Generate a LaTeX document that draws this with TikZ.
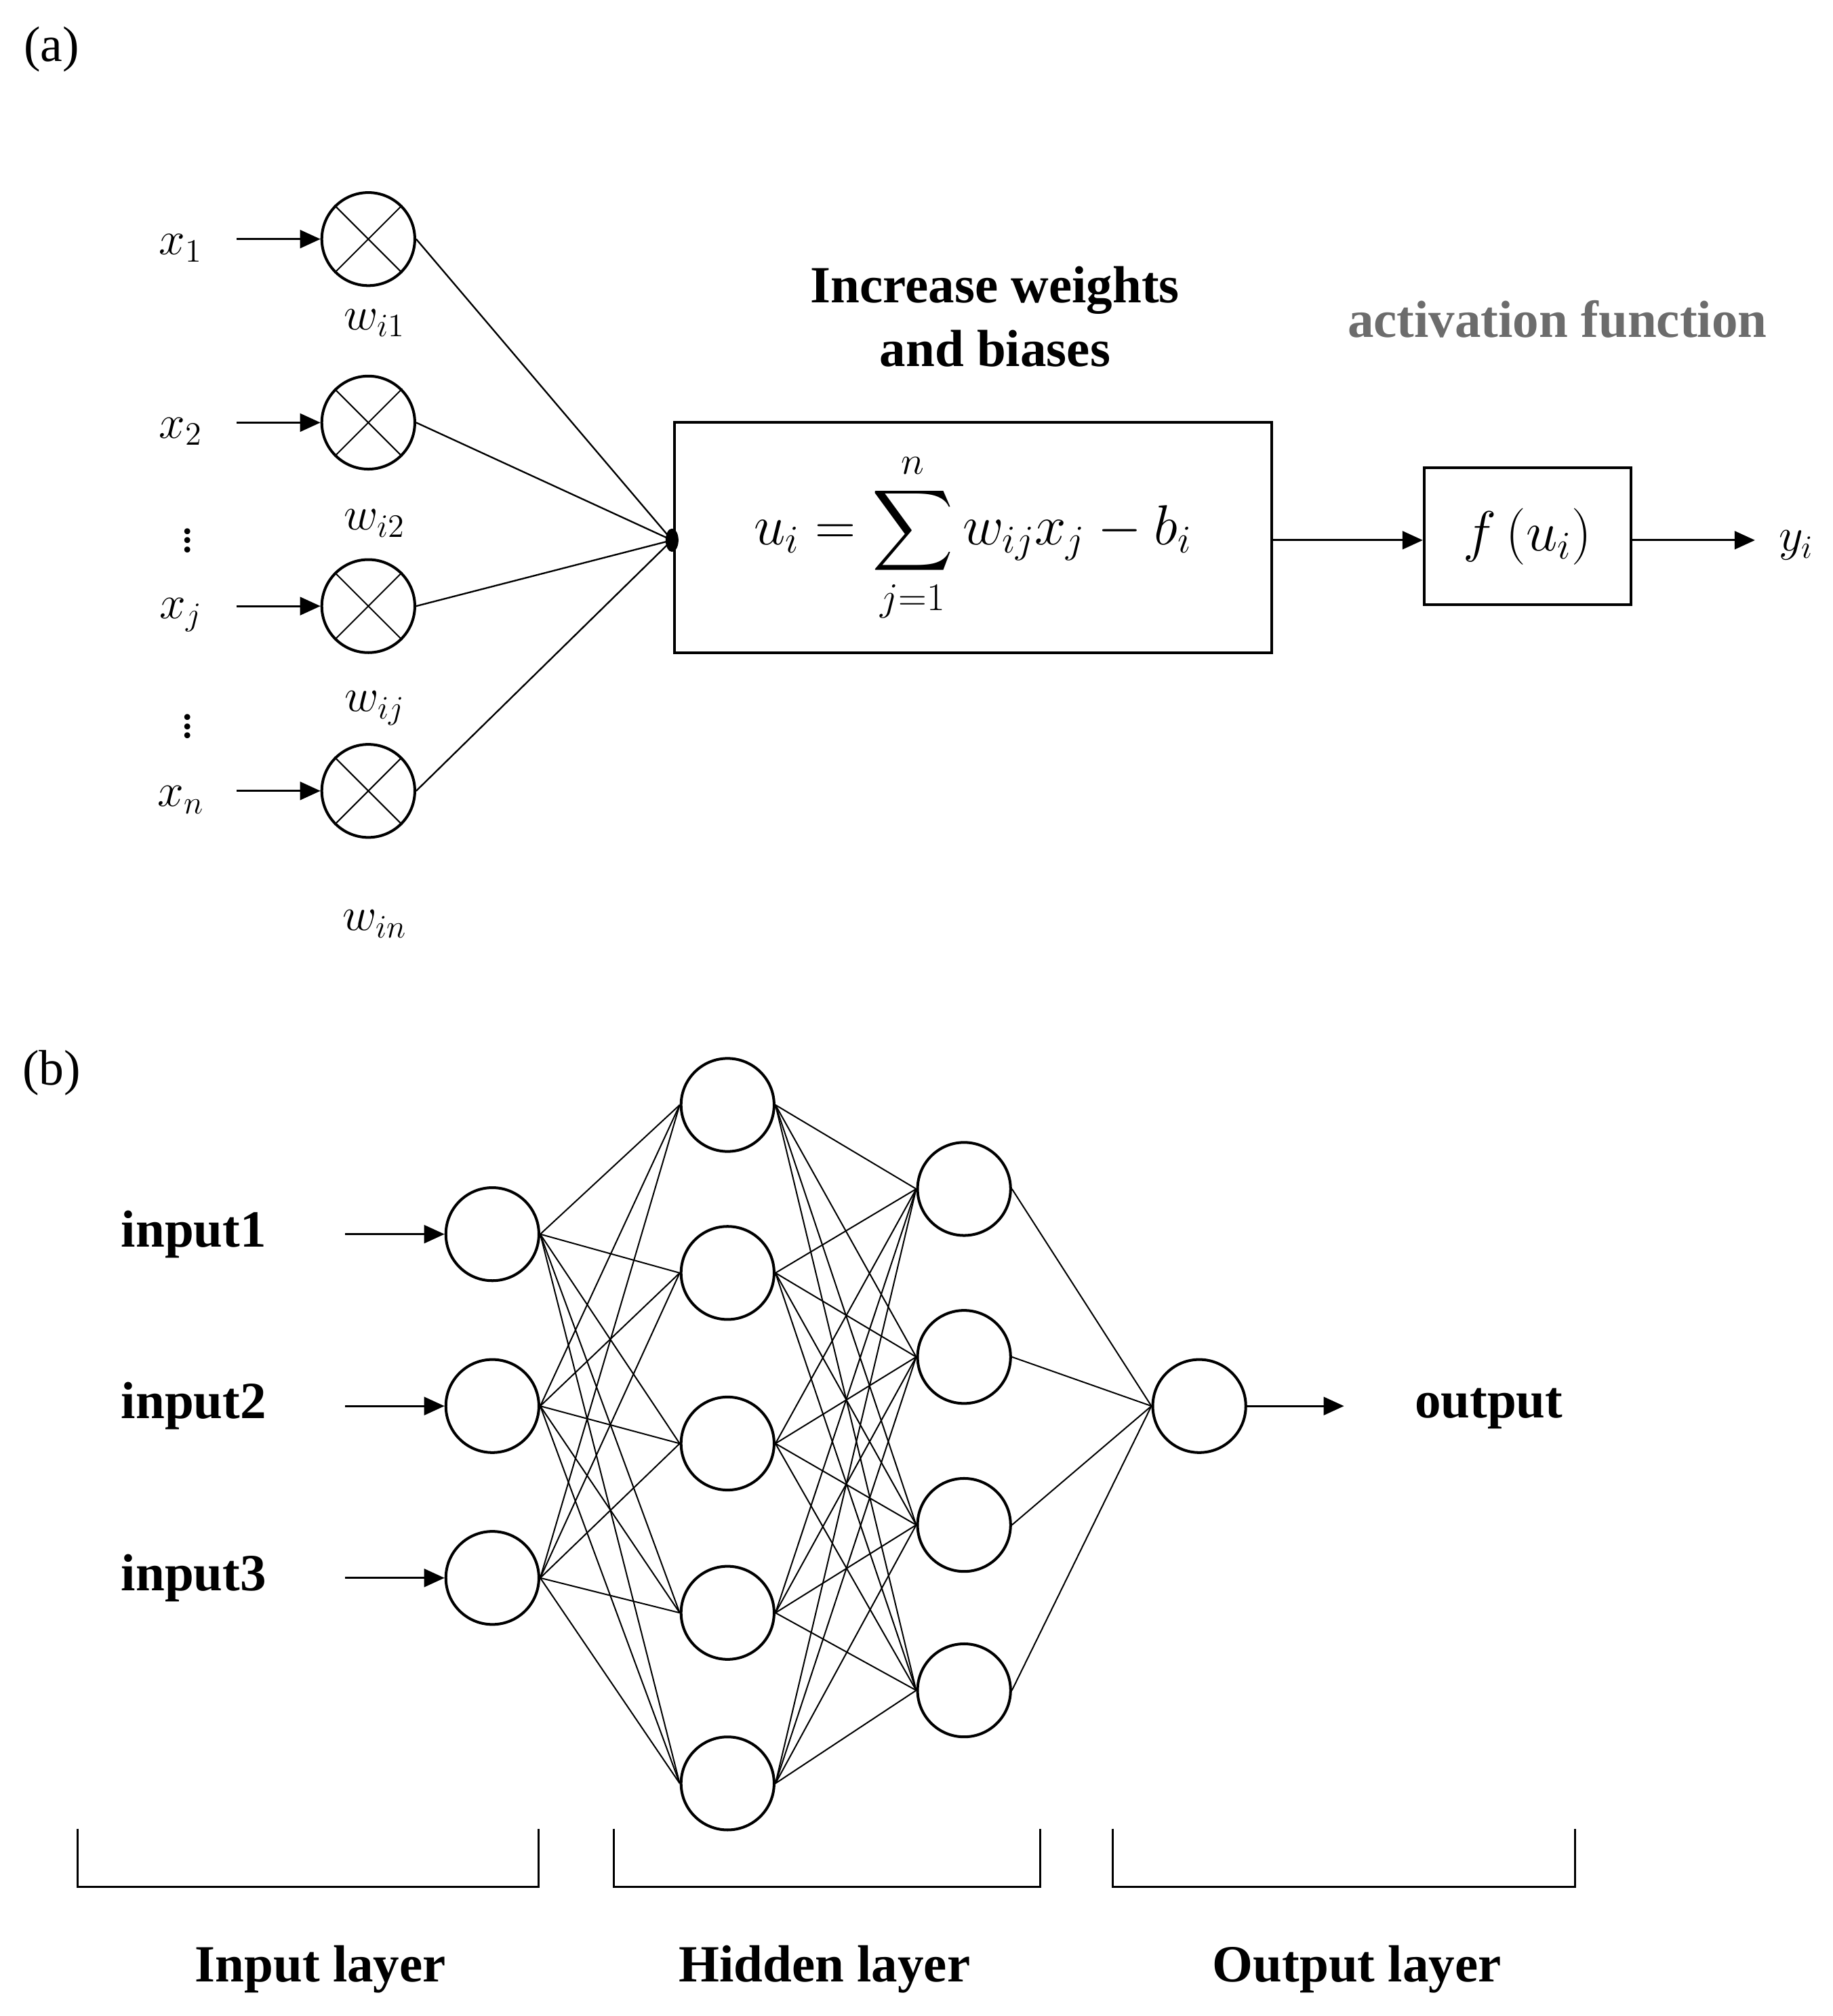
\documentclass[tikz,border=0pt]{standalone}
\usepackage{amsmath}
\usepackage{exscale}
\usepackage{fontspec}
\setmainfont{Liberation Serif}
\usetikzlibrary{arrows.meta}
\begin{document}
\begin{tikzpicture}[x=0.02cm,y=-0.02cm,
  big/.style={font=\fontsize{22}{26}\selectfont},
  bl/.style={font=\fontsize{23}{28}\selectfont\bfseries},
  neu/.style={circle,draw,line width=1.2pt,minimum size=1.44cm,inner sep=0pt},
  arr/.style={-{Triangle[length=9pt,width=8pt]},line width=0.9pt},
  thin/.style={line width=0.6pt}]
\useasboundingbox (0,0) rectangle (1418,1560);
\node[big] (la) at (40,38) {(a)};
\node[big] (lb) at (40,830) {(b)};
% (a)
\foreach \n/\y/\lab/\w/\wy in {1/185/x_1/w_{i1}/250, 2/327/x_2/w_{i2}/405, 3/469/x_j/w_{ij}/548, 4/612/x_n/w_{in}/715}{
  \node[neu] (m\n) at (285,\y) {};
  \draw[thin] (m\n.north east) -- (m\n.south west) (m\n.north west) -- (m\n.south east);
  \node[big] (xl\n) at (140,\y+7) {$\lab$};
  \coordinate (xs\n) at (183,\y);
  \draw[arr] (xs\n) -- (m\n.west);
  \node[big] (wl\n) at (290,\wy) {$\w$};
}
\node[big,inner sep=0pt] (d1) at (145,413) {$\vdots$};
\node[big,inner sep=0pt] (d2) at (145,557) {$\vdots$};
\node[draw,line width=1.2pt,minimum width=9.24cm,minimum height=3.56cm,font=\fontsize{25}{30}\selectfont] (sum) at (753,416) {$u_i=\displaystyle\sum_{j=1}^{n} w_{ij}x_j-b_i$};
\coordinate (cv) at (520,418);
\foreach \n in {1,...,4}{\draw[line width=0.7pt] (m\n.east) -- (cv);}
\fill (cv) ellipse (5 and 9);
\node[bl,align=center] (t1) at (770,245) {Increase weights\\and biases};
\node[bl,text=gray!85!black] (t2) at (1205,247) {activation function};
\node[draw,line width=1.2pt,minimum width=3.2cm,minimum height=2.12cm,font=\fontsize{24}{28}\selectfont] (f) at (1182,415) {$f\,(u_i)$};
\draw[arr] (sum.east |- 0,418) -- (f.west |- 0,418);
\node[big] (y) at (1390,422) {$y_i$};
\draw[arr] (f.east |- 0,418) -- (1358,418);
% (b)
\foreach \n/\y in {1/955,2/1088,3/1221}{
  \node[neu] (i\n) at (381,\y) {};
  \node[bl] (il\n) at (150,\y) {input\n};
  \coordinate (is\n) at (267,\y);
  \draw[arr] (is\n) -- (i\n.west);
}
\foreach \n/\y in {1/855,2/985,3/1117,4/1248,5/1380}{\node[neu] (h\n) at (563,\y) {};}
\foreach \n/\y in {1/920,2/1050,3/1180,4/1308}{\node[neu] (g\n) at (746,\y) {};}
\node[neu] (o) at (928,1088) {};
\foreach \a in {1,2,3}{\foreach \b in {1,...,5}{\draw[thin] (i\a.east) -- (h\b.west);}}
\foreach \a in {1,...,5}{\foreach \b in {1,...,4}{\draw[thin] (h\a.east) -- (g\b.west);}}
\foreach \a in {1,...,4}{\draw[thin] (g\a.east) -- (o.west);}
\coordinate (oe) at (1040,1088);
\draw[arr] (o.east) -- (oe);
\node[bl] (ol) at (1152,1090) {output};
\foreach \l/\r/\c/\t in {60/417/248/Input layer, 475/805/638/Hidden layer, 861/1219/1050/Output layer}{
  \draw[line width=0.9pt] (\l,1415) -- (\l,1460) -- (\r,1460) -- (\r,1415);
  \node[bl] at (\c,1524) {\t};
}
\end{tikzpicture}
\end{document}
